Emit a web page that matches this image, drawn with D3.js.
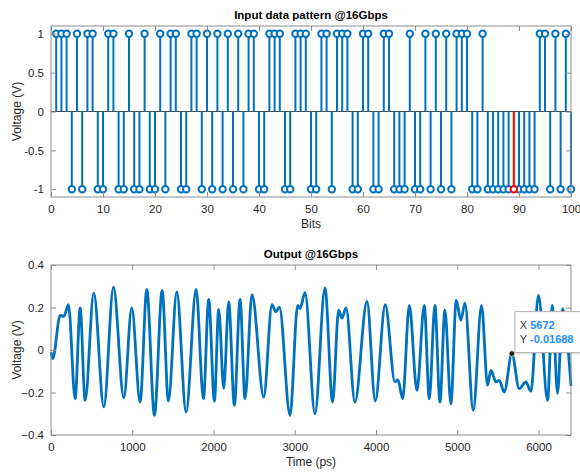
<!DOCTYPE html>
<html>
<head>
<meta charset="utf-8">
<script src="https://cdn.jsdelivr.net/npm/d3@7"></script>
<style>
  body { margin: 0; background: #fff; }
  svg { display: block; font-family: "Liberation Sans", Arial, Helvetica, sans-serif; }
</style>
</head>
<body>
<div id="chart"></div>
<script>
// input bit pattern, one value per bit (1..100)
const bits = [
  1, 1, 1, -1, 1, -1, 1, 1, -1, -1,
  1, 1, -1, -1, 1, -1, -1, 1, -1, -1,
  1, -1, 1, 1, -1, -1, 1, 1, -1, 1,
  -1, 1, -1, 1, -1, 1, -1, 1, 1, -1,
  -1, 1, 1, 1, -1, -1, 1, 1, 1, -1,
  -1, 1, 1, -1, 1, 1, 1, -1, -1, 1,
  1, -1, -1, 1, 1, -1, -1, -1, 1, -1,
  -1, 1, -1, 1, -1, 1, -1, 1, 1, 1,
  -1, -1, 1, -1, -1, -1, -1, -1, -1, -1,
  -1, -1, -1, 1, 1, -1, 1, -1, 1, -1
];
const highlightBit = 89;
const bitTicks = [0, 10, 20, 30, 40, 50, 60, 70, 80, 90, 100];
const bitYTicks = [-1, -0.5, 0, 0.5, 1];

const outTime = [
  0, 22, 113, 158, 215, 297, 359, 420, 527, 650,
  769, 896, 994, 1097, 1179, 1273, 1368, 1445, 1548, 1663,
  1786, 1876, 1941, 2011, 2064, 2126, 2187, 2257, 2327, 2388,
  2474, 2618, 2720, 2769, 2811, 2942, 3036, 3065, 3126, 3249,
  3372, 3466, 3540, 3581, 3631, 3741, 3889, 3991, 4114, 4233,
  4270, 4328, 4410, 4504, 4594, 4656, 4725, 4787, 4848, 4922,
  4988, 5045, 5094, 5197, 5299, 5373, 5414, 5476, 5517, 5578,
  5672, 5763, 5845, 5906, 6000, 6111, 6172, 6234, 6296, 6400
];
const outVolt = [
  -0.01, -0.04, 0.163, 0.158, 0.213, -0.229, 0.198, -0.237, 0.268, -0.268,
  0.296, -0.224, 0.198, -0.245, 0.285, -0.307, 0.281, -0.24, 0.273, -0.292,
  0.285, -0.229, 0.238, -0.24, 0.191, -0.18, 0.226, -0.26, 0.238, -0.229,
  0.26, -0.221, 0.213, 0.179, 0.202, -0.307, 0.21, 0.195, 0.27, -0.3,
  0.292, -0.245, 0.187, 0.15, 0.198, -0.245, 0.229, -0.24, 0.213, -0.15,
  -0.14, -0.229, 0.21, -0.19, 0.21, -0.229, 0.21, -0.245, 0.187, -0.253,
  0.234, 0.14, 0.221, -0.284, 0.21, -0.166, -0.096, -0.15, -0.143, -0.198,
  -0.017, -0.182, -0.15, -0.195, 0.257, -0.237, 0.21, -0.205, 0.195, -0.17
];
const timeTicks = [0, 1000, 2000, 3000, 4000, 5000, 6000];
const voltTicks = [-0.4, -0.2, 0, 0.2, 0.4];
const tipTime = 5672;
const tipVolt = -0.01688;

const W = 580, H = 474;
const blue = '#0072bd';
const axisGrey = '#8c8c8c';
const textCol = '#262626';

const svg = d3.select('#chart').append('svg')
  .attr('width', W)
  .attr('height', H);

// draws the box, mirrored inward ticks and labels for one panel
function drawFrame(g, x, y, xTicks, yTicks, opts) {
  const [x0, x1] = x.range();
  const [y1, y0] = y.range();

  const styleAxis = (sel) => {
    sel.select('.domain').remove();
    sel.selectAll('line').attr('stroke', axisGrey);
    sel.selectAll('text').attr('fill', textCol).style('font-size', '11.5px');
  };

  g.append('g').attr('transform', `translate(0,${y1})`)
    .call(d3.axisBottom(x).tickValues(xTicks).tickSizeInner(-5).tickSizeOuter(0).tickPadding(8)
      .tickFormat(d3.format('d')))
    .call(styleAxis);
  g.append('g').attr('transform', `translate(0,${y0})`)
    .call(d3.axisTop(x).tickValues(xTicks).tickSizeInner(-5).tickSizeOuter(0).tickFormat(''))
    .call(styleAxis);
  g.append('g').attr('transform', `translate(${x0},0)`)
    .call(d3.axisLeft(y).tickValues(yTicks).tickSizeInner(-5).tickSizeOuter(0).tickPadding(7)
      .tickFormat(opts.yFormat))
    .call(styleAxis);
  g.append('g').attr('transform', `translate(${x1},0)`)
    .call(d3.axisRight(y).tickValues(yTicks).tickSizeInner(-5).tickSizeOuter(0).tickFormat(''))
    .call(styleAxis);

  g.append('rect')
    .attr('x', x0).attr('y', y0)
    .attr('width', x1 - x0).attr('height', y1 - y0)
    .attr('fill', 'none')
    .attr('stroke', axisGrey)
    .attr('stroke-width', 1);

  g.append('text')
    .attr('x', (x0 + x1) / 2).attr('y', y0 - 7)
    .attr('text-anchor', 'middle')
    .attr('fill', '#000')
    .style('font-size', '11.5px').style('font-weight', 'bold')
    .text(opts.title);

  g.append('text')
    .attr('x', (x0 + x1) / 2).attr('y', y1 + 31)
    .attr('text-anchor', 'middle')
    .attr('fill', textCol)
    .style('font-size', '12px')
    .text(opts.xLabel);

  g.append('text')
    .attr('transform', `translate(21,${(y0 + y1) / 2}) rotate(-90)`)
    .attr('text-anchor', 'middle')
    .attr('fill', textCol)
    .style('font-size', '12px')
    .text(opts.yLabel);
}

// ---- top panel: stem plot of input bits
const xBit = d3.scaleLinear().domain([0, 100]).range([51, 571]);
const yBit = d3.scaleLinear().domain([-1.1, 1.1]).range([197, 26]);
const gTop = svg.append('g');

const stems = bits.map((v, i) => ({ n: i + 1, v }));

gTop.append('line')
  .attr('x1', xBit(0)).attr('x2', xBit(100))
  .attr('y1', yBit(0)).attr('y2', yBit(0))
  .attr('stroke', '#4d4d4d')
  .attr('stroke-width', 1);

const stem = gTop.append('g').selectAll('g')
  .data(stems)
  .join('g')
  .attr('stroke', d => (d.n === highlightBit ? '#ff0000' : blue))
  .attr('fill', 'none')
  .attr('stroke-width', 2);

stem.append('line')
  .attr('x1', d => xBit(d.n)).attr('x2', d => xBit(d.n))
  .attr('y1', yBit(0)).attr('y2', d => yBit(d.v));

stem.append('circle')
  .attr('cx', d => xBit(d.n))
  .attr('cy', d => yBit(d.v))
  .attr('r', 3.2)
  .attr('fill', '#fff');

// keep the red stem on top of its neighbours
stem.filter(d => d.n === highlightBit).raise();

drawFrame(gTop, xBit, yBit, bitTicks, bitYTicks, {
  title: 'Input data pattern @16Gbps',
  xLabel: 'Bits',
  yLabel: 'Voltage (V)',
  yFormat: d => (d === 0 ? '0' : String(d))
});

// ---- bottom panel: output waveform
const xTime = d3.scaleLinear().domain([0, 6400]).range([51, 571]);
const yVolt = d3.scaleLinear().domain([-0.4, 0.4]).range([435, 265]);
const gBot = svg.append('g');

const wave = outTime.map((t, i) => ({ t, v: outVolt[i] }));
const line = d3.line()
  .x(d => xTime(d.t))
  .y(d => yVolt(d.v))
  .curve(d3.curveMonotoneX);

gBot.append('path')
  .datum(wave)
  .attr('d', line)
  .attr('fill', 'none')
  .attr('stroke', blue)
  .attr('stroke-width', 2.8)
  .attr('stroke-linejoin', 'round');

drawFrame(gBot, xTime, yVolt, timeTicks, voltTicks, {
  title: 'Output @16Gbps',
  xLabel: 'Time (ps)',
  yLabel: 'Voltage (V)',
  yFormat: d => (d === 0 ? '0' : d3.format('.1f')(d))
});

// data tip
const px = xTime(tipTime), py = yVolt(tipVolt);
gBot.append('circle')
  .attr('cx', px).attr('cy', py)
  .attr('r', 2.8)
  .attr('fill', '#1a1a1a')
  .attr('stroke', '#f2e9b0')
  .attr('stroke-width', 0.8);

const tip = gBot.append('g').attr('transform', `translate(${px + 3},${py - 42})`);
tip.append('rect')
  .attr('width', 70).attr('height', 41)
  .attr('fill', '#fff')
  .attr('stroke', '#b4b4b4')
  .attr('stroke-width', 1)
  .style('filter', 'drop-shadow(1px 1px 1px rgba(0,0,0,0.15))');
const tipRows = [['X', String(tipTime)], ['Y', String(tipVolt)]];
tipRows.forEach(([k, v], i) => {
  const t = tip.append('text')
    .attr('x', 5).attr('y', 17 + i * 14)
    .style('font-size', '11px');
  t.append('tspan').attr('fill', '#333').text(k + ' ');
  t.append('tspan').attr('fill', '#1e8fff').style('font-weight', 'bold').text(v);
});
</script>
</body>
</html>
